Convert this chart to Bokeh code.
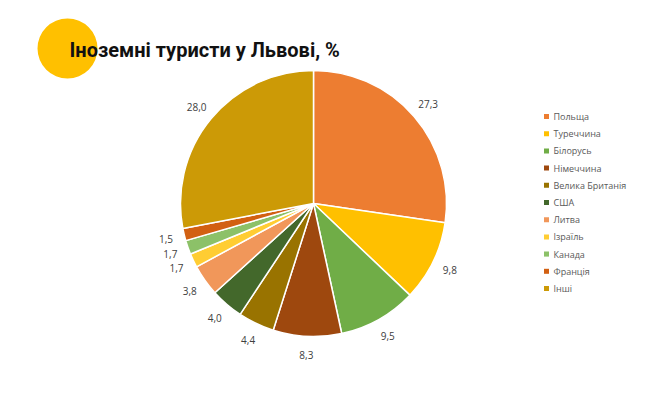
import math
from bokeh.plotting import figure
from bokeh.models import Range1d, ColumnDataSource
from bokeh.core.properties import value
from bokeh.embed import file_html
from bokeh.resources import INLINE

title = "Іноземні туристи у Львові, %"
categories = ["Польща", "Туреччина", "Білорусь", "Німеччина", "Велика Британія",
              "США", "Литва", "Ізраїль", "Канада", "Франція", "Інші"]
values = [27.3, 9.8, 9.5, 8.3, 4.4, 4.0, 3.8, 1.7, 1.7, 1.5, 28.0]
labels = ["27,3", "9,8", "9,5", "8,3", "4,4", "4,0", "3,8", "1,7", "1,7", "1,5", "28,0"]
colors = ["#ED7D31", "#FFC000", "#70AD47", "#9E480E", "#997300", "#43682B",
          "#F1975A", "#FFCD33", "#8CC168", "#D26012", "#CC9A06"]

W, H = 656, 381

def sy(y):
    return H - y

p = figure(width=W, height=H, output_backend="svg", toolbar_location=None,
           x_range=Range1d(0, W), y_range=Range1d(0, H),
           min_border=0)
p.axis.visible = False
p.grid.visible = False
p.outline_line_color = None
p.background_fill_color = "white"

cx, cy, r = 313, sy(203), 133
total = sum(values)
starts, ends, lx, ly = [], [], [], []
cum = 0.0
for v in values:
    a0 = math.pi / 2 - 2 * math.pi * cum / total
    a1 = math.pi / 2 - 2 * math.pi * (cum + v) / total
    starts.append(a0)
    ends.append(a1)
    mid = (a0 + a1) / 2
    lx.append(cx + 1.14 * r * math.cos(mid))
    ly.append(cy + 1.14 * r * math.sin(mid))
    cum += v

src = ColumnDataSource(dict(start=starts, end=ends, color=colors, lx=lx, ly=ly, lab=labels))
p.wedge(x=cx, y=cy, radius=r, start_angle="start", end_angle="end", direction="clock",
        fill_color="color", line_color="white", line_width=1.5, source=src)
p.text(x="lx", y="ly", text="lab", source=src, text_align="center", text_baseline="middle",
       text_font=value("Open Sans"), text_font_size="10px", text_color="#404040")

# title decoration
p.circle(x=[67], y=[sy(48)], radius=30, fill_color="#FFC000", line_color=None)
p.text(x=[69], y=[sy(49)], text=[title], text_baseline="middle", text_align="left",
       text_font=value("Roboto"), text_font_style="bold",
       text_font_size="20px", text_color="#111111")

# legend
n = len(categories)
leg_x = [546] * n
leg_y = [sy(116 + i * 17.2) for i in range(n)]
p.rect(x=leg_x, y=leg_y, width=5, height=5, fill_color=colors, line_color=None)
p.text(x=[553] * n, y=leg_y, text=categories, text_baseline="middle", text_align="left",
       text_font=value("Open Sans"), text_font_size="9px", text_color="#595959")

open("out.html", "w").write(file_html(p, INLINE))
